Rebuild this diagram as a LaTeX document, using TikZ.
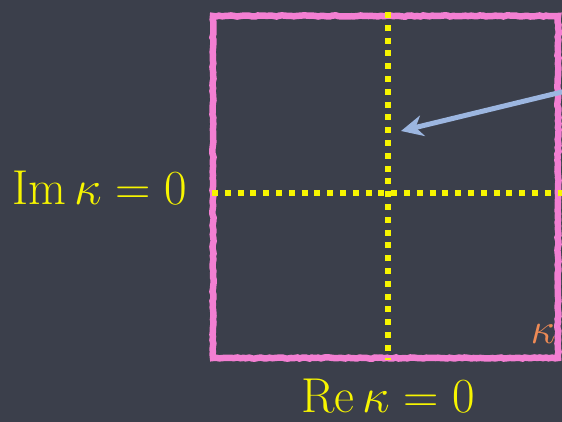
\documentclass[tikz,border=0pt]{standalone}
\usepackage{fix-cm}
\usetikzlibrary{arrows.meta,decorations.pathmorphing}
\definecolor{board}{HTML}{3B3F4B}
\definecolor{chalkpink}{HTML}{F37FD2}
\definecolor{chalkyellow}{HTML}{F7F500}
\definecolor{chalkblue}{HTML}{9CB6E0}
\definecolor{chalkorange}{HTML}{EE8A55}
\begin{document}
\begin{tikzpicture}[x=1pt,y=1pt,
  frame/.style={draw=chalkpink,line width=6.5pt,decorate,decoration={random steps,segment length=3pt,amplitude=0.6pt}},
  axisline/.style={draw=chalkyellow,line width=6pt,dash pattern=on 6pt off 6.8pt},
  lbl/.style={text=chalkyellow,font=\fontsize{49}{56}\selectfont,inner sep=0pt,anchor=base},
  pointer/.style={draw=chalkblue,line width=5pt,-{Stealth[length=22pt,width=21pt,inset=7pt]}}]
\useasboundingbox[fill=board] (0,0) rectangle (562,422);
\coordinate (tl) at (213,406);
\coordinate (br) at (558,64);
\path[frame] (tl) rectangle (br);
\coordinate (vtop) at (388,410);
\coordinate (vbot) at (388,62);
\coordinate (hl) at (212,229);
\coordinate (hr) at (562,229);
\path[axisline] (vtop) -- (vbot);
\path[axisline] (hl) -- (hr);
\node[lbl] (im) at (100,217) {$\mathrm{Im}\,\kappa=0$};
\node[lbl] (re) at (388,9) {$\mathrm{Re}\,\kappa=0$};
\node[text=chalkorange,font=\fontsize{44}{50}\selectfont,inner sep=0pt,anchor=base] (k) at (543,78) {$\kappa$};
\coordinate (astart) at (566,331);
\coordinate (atip) at (401,291);
\path[pointer] (astart) -- (atip);
\end{tikzpicture}
\end{document}
